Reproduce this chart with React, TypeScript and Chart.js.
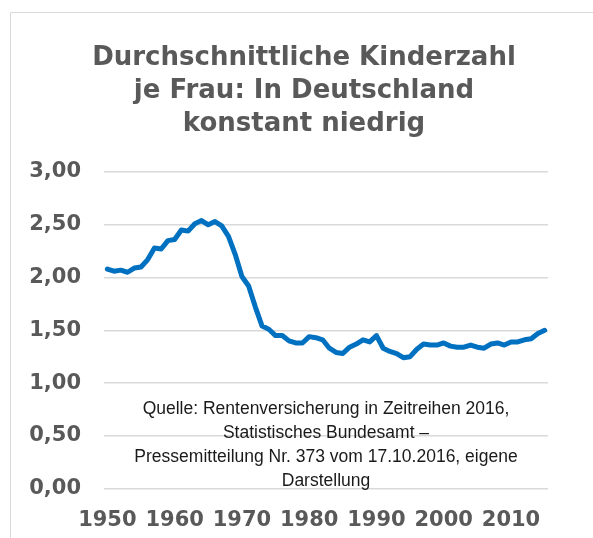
import React, { useEffect, useRef } from "react";
import { Chart, registerables } from "chart.js";

Chart.register(...registerables);

const years: string[] = [
  "1950","1951","1952","1953","1954","1955","1956","1957","1958","1959",
  "1960","1961","1962","1963","1964","1965","1966","1967","1968","1969",
  "1970","1971","1972","1973","1974","1975","1976","1977","1978","1979",
  "1980","1981","1982","1983","1984","1985","1986","1987","1988","1989",
  "1990","1991","1992","1993","1994","1995","1996","1997","1998","1999",
  "2000","2001","2002","2003","2004","2005","2006","2007","2008","2009",
  "2010","2011","2012","2013","2014","2015",
];

const kinderzahl: number[] = [
  2.08, 2.06, 2.07, 2.05, 2.09, 2.10, 2.17, 2.28, 2.27, 2.35,
  2.36, 2.45, 2.44, 2.51, 2.54, 2.50, 2.53, 2.49, 2.39, 2.22,
  2.01, 1.92, 1.72, 1.54, 1.51, 1.45, 1.45, 1.40, 1.38, 1.38,
  1.44, 1.43, 1.41, 1.33, 1.29, 1.28, 1.34, 1.37, 1.41, 1.39,
  1.45, 1.33, 1.30, 1.28, 1.24, 1.25, 1.32, 1.37, 1.36, 1.36,
  1.38, 1.35, 1.34, 1.34, 1.36, 1.34, 1.33, 1.37, 1.38, 1.36,
  1.39, 1.39, 1.41, 1.42, 1.47, 1.50,
];

const xTickLabels: string[] = ["1950", "1960", "1970", "1980", "1990", "2000", "2010"];

const titleLines: string[] = [
  "Durchschnittliche Kinderzahl",
  "je Frau: In Deutschland",
  "konstant niedrig",
];

const sourceLines: string[] = [
  "Quelle: Rentenversicherung in Zeitreihen 2016,",
  "Statistisches Bundesamt \u2013",
  "Pressemitteilung Nr. 373 vom 17.10.2016, eigene",
  "Darstellung",
];

const GRAY = "#595959";
const FONT = "'DejaVu Sans', Verdana, sans-serif";

const framePlugin = {
  id: "frame",
  beforeDraw(chart: any) {
    const ctx = chart.ctx;
    ctx.save();
    ctx.fillStyle = "#ffffff";
    ctx.fillRect(0, 0, chart.width, chart.height);
    ctx.strokeStyle = "#d9d9d9";
    ctx.lineWidth = 1;
    ctx.beginPath();
    ctx.moveTo(10.5, chart.height);
    ctx.lineTo(10.5, 12.5);
    ctx.lineTo(chart.width, 12.5);
    ctx.stroke();
    ctx.restore();
  },
};

const titlePlugin = {
  id: "customTitle",
  afterDraw(chart: any) {
    const ctx = chart.ctx;
    ctx.save();
    ctx.font = "bold 26px " + FONT;
    ctx.fillStyle = GRAY;
    ctx.textAlign = "center";
    ctx.textBaseline = "alphabetic";
    titleLines.forEach((line, i) => {
      ctx.fillText(line, 304, 65 + i * 33);
    });
    ctx.restore();
  },
};

const sourcePlugin = {
  id: "sourceNote",
  afterDatasetsDraw(chart: any) {
    const ctx = chart.ctx;
    const area = chart.chartArea;
    const y0 = chart.scales.y.getPixelForValue(0.75);
    const cx = (area.left + area.right) / 2;
    ctx.save();
    ctx.font = "17.5px 'Liberation Sans', Arial, sans-serif";
    ctx.fillStyle = "#1a1a1a";
    ctx.textAlign = "center";
    ctx.textBaseline = "middle";
    sourceLines.forEach((line, i) => {
      ctx.fillText(line, cx, y0 + i * 24);
    });
    ctx.restore();
  },
};

export default function App() {
  const canvasRef = useRef<HTMLCanvasElement | null>(null);

  useEffect(() => {
    if (!canvasRef.current) return;
    const chart = new Chart(canvasRef.current, {
      type: "line",
      data: {
        labels: years,
        datasets: [
          {
            data: kinderzahl,
            borderColor: "#0070C0",
            borderWidth: 5,
            pointRadius: 0,
            tension: 0,
            fill: false,
            borderJoinStyle: "round",
            borderCapStyle: "round",
          },
        ],
      },
      options: {
        animation: false,
        responsive: false,
        layout: { padding: { left: 29, right: 45, top: 172, bottom: 0 } },
        plugins: {
          legend: { display: false },
          tooltip: { enabled: false },
          title: { display: false },
        },
        scales: {
          x: {
            type: "category",
            offset: true,
            grid: { display: false, drawTicks: false },
            border: { display: false },
            afterFit(scale: any) {
              scale.height = 49.4;
            },
            ticks: {
              autoSkip: false,
              maxRotation: 0,
              minRotation: 0,
              padding: 19,
              color: GRAY,
              font: { family: FONT, size: 21, weight: "bold" },
              callback: function (this: any, _v: any, index: number) {
                const lab = years[index];
                return xTickLabels.includes(lab) ? lab : "";
              },
            },
          },
          y: {
            min: 0,
            max: 3,
            grid: { color: "#d9d9d9", lineWidth: 1.5, drawTicks: false },
            border: { display: false },
            afterFit(scale: any) {
              scale.width = 75;
            },
            ticks: {
              stepSize: 0.5,
              padding: 23,
              color: GRAY,
              font: { family: FONT, size: 21, weight: "bold" },
              callback: (v: any) => Number(v).toFixed(2).replace(".", ","),
            },
          },
        },
      },
      plugins: [framePlugin, titlePlugin, sourcePlugin],
    });
    return () => chart.destroy();
  }, []);

  return (
    <div style={{ position: "absolute", left: 0, top: 0, width: 593, height: 538, overflow: "hidden" }}>
      <canvas ref={canvasRef} width={593} height={538} style={{ display: "block" }} />
    </div>
  );
}
